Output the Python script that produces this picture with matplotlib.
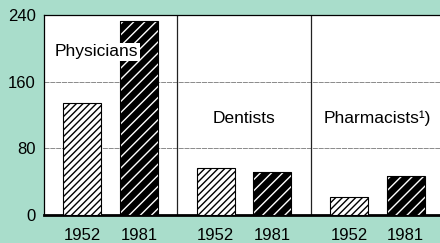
import matplotlib.pyplot as plt
import numpy as np

plt.rcParams['font.family'] = ['Liberation Sans', 'DejaVu Sans']
plt.rcParams['hatch.linewidth'] = 1.0

groups = ["Physicians", "Dentists", "Pharmacists\u00b9)"]
years = ["1952", "1981"]
v1952 = [135, 56, 22]
v1981 = [233, 52, 47]
yticks = [0, 80, 160, 240]

bg = "#a9ddcb"
fig = plt.figure(figsize=(4.4, 2.43), dpi=100, facecolor=bg)
ax = fig.add_axes([0.1, 0.115, 0.9, 0.823])
ax.set_facecolor("white")

x = np.arange(len(groups))
off = 0.213
w = 0.284

# 1952: white with thin black hatching
ax.bar(x - off, v1952, w, color="white", edgecolor="black", hatch="/////", linewidth=0.8, zorder=3)
# 1981: black with white hatching, then black outline
ax.bar(x + off, v1981, w, color="black", edgecolor="white", hatch="///", linewidth=0, zorder=3)
ax.bar(x + off, v1981, w, fill=False, edgecolor="black", linewidth=0.8, zorder=4)

# group separators
for s in x[1:] - 0.5:
    ax.axvline(s, color="#222222", lw=0.9, zorder=2)
for g in yticks[1:3]:
    ax.axhline(g, color="#777777", lw=0.6, ls=(0, (6, 1)), zorder=1)

ax.set_xlim(-0.5, 2.47)
ax.set_ylim(0, 240)
ax.set_yticks(yticks)
ax.set_yticklabels([str(t) for t in yticks], fontsize=12)
ax.tick_params(axis="y", length=0, pad=6)
ax.set_xticks(np.concatenate([x - off, x + off]))
ax.set_xticklabels([years[0]] * 3 + [years[1]] * 3, fontsize=12)
ax.tick_params(axis="x", length=0, pad=9)

for side in ["left", "top"]:
    ax.spines[side].set_linewidth(0.9)
ax.spines["bottom"].set_linewidth(2)
ax.spines["right"].set_visible(False)

ax.text(-0.418, 196, groups[0], fontsize=12.5, va="center", ha="left", zorder=5,
        bbox=dict(facecolor="white", edgecolor="none", pad=1))
ax.text(1, 116, groups[1], fontsize=12.5, va="center", ha="center", zorder=5)
ax.text(2.0, 116, groups[2], fontsize=12.5, va="center", ha="center", zorder=5)

fig.savefig("out.png", dpi=100, facecolor=bg)
